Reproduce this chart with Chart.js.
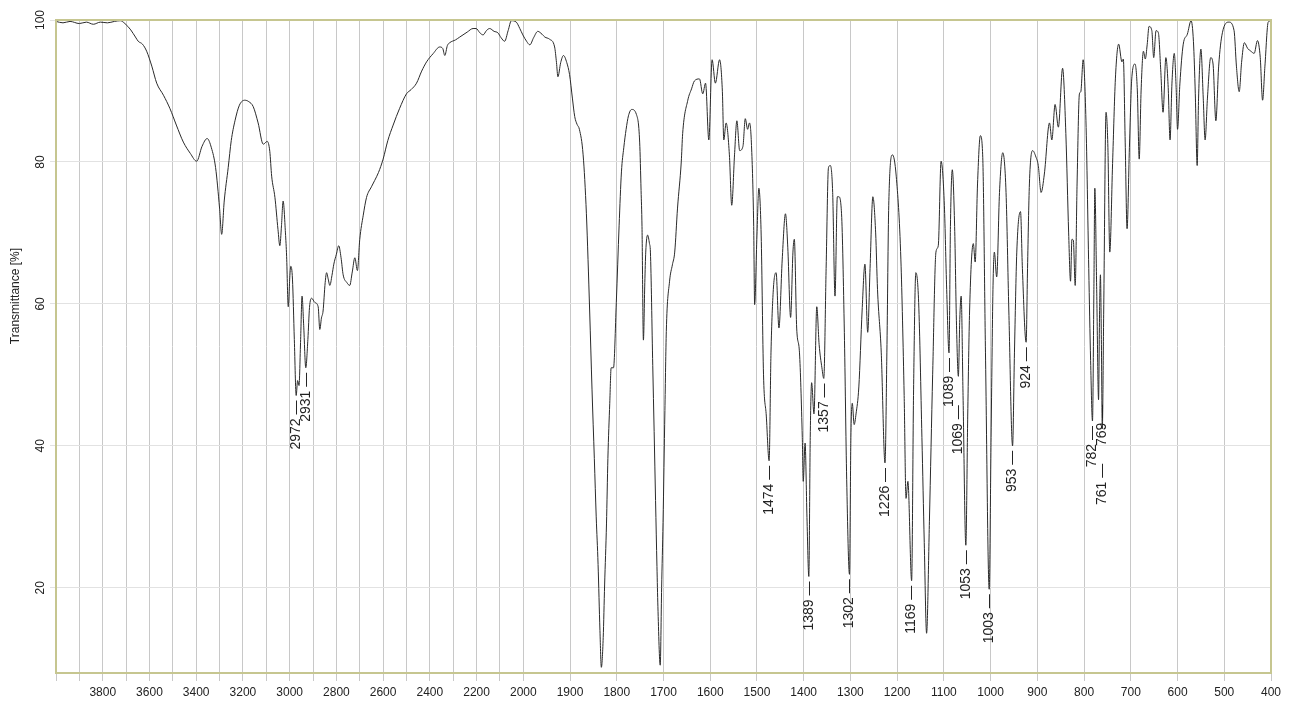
<!DOCTYPE html>
<html>
<head>
<meta charset="utf-8">
<title>IR spectrum</title>
<script src="https://cdn.jsdelivr.net/npm/chart.js@4.4.1/dist/chart.umd.min.js"></script>
<style>
  html, body { margin: 0; padding: 0; background: #fff; }
  canvas { display: block; }
</style>
</head>
<body>
<canvas id="spectrum" width="1296" height="705"></canvas>
<script>
// wavenumber [cm-1], high to low
const wavenumbers = [
  4000, 3970, 3940, 3900, 3870, 3840, 3810, 3780, 3750, 3725,
  3705, 3680, 3660, 3648, 3630, 3612, 3590, 3569, 3540, 3512,
  3485, 3455, 3425, 3398, 3375, 3353, 3335, 3317, 3300, 3291,
  3280, 3263, 3250, 3234, 3215, 3192, 3175, 3156, 3135, 3113,
  3096, 3085, 3077, 3063, 3050, 3042, 3035, 3028, 3018, 3013,
  3006, 2999, 2995, 2988, 2980, 2972, 2966, 2960, 2953, 2947,
  2940, 2931, 2922, 2915, 2906, 2892, 2878, 2871, 2864, 2857,
  2848, 2842, 2835, 2828, 2819, 2811, 2800, 2790, 2780, 2771,
  2755, 2743, 2732, 2721, 2710, 2700, 2685, 2671, 2650, 2636,
  2620, 2600, 2580, 2557, 2530, 2500, 2480, 2457, 2435, 2414,
  2385, 2358, 2345, 2336, 2325, 2315, 2290, 2272, 2240, 2215,
  2202, 2186, 2172, 2158, 2144, 2125, 2109, 2095, 2080, 2065,
  2051, 2030, 2015, 2002, 1993, 1986, 1978, 1969, 1960, 1954,
  1944, 1933, 1929, 1926, 1920, 1914, 1907, 1901, 1895, 1890,
  1885, 1880, 1872, 1865, 1858, 1853, 1848, 1844, 1840, 1836,
  1833, 1829, 1826, 1822, 1819, 1815, 1812, 1807, 1801, 1795,
  1790, 1785, 1780, 1775, 1768, 1758, 1751, 1748, 1746, 1743,
  1740, 1738, 1734, 1730, 1728, 1723, 1720, 1717, 1714, 1712,
  1707, 1704, 1701, 1697, 1694, 1687, 1681, 1676, 1670, 1662,
  1659, 1648, 1640, 1634, 1623, 1616, 1610, 1603, 1596, 1589,
  1580, 1574, 1571, 1566, 1559, 1554, 1548, 1543, 1537, 1530,
  1525, 1520, 1516, 1512, 1507, 1505, 1500, 1496, 1491, 1486,
  1480, 1474, 1470, 1465, 1459, 1453, 1446, 1439, 1434, 1428,
  1423, 1420, 1415, 1409, 1403, 1401, 1397, 1393, 1389, 1386,
  1383, 1378, 1372, 1367, 1361, 1357, 1352, 1347, 1343, 1338,
  1333, 1328, 1325, 1319, 1313, 1308, 1302, 1299, 1296, 1292,
  1288, 1282, 1275, 1269, 1263, 1258, 1252, 1246, 1242, 1234,
  1226, 1222, 1218, 1210, 1202, 1192, 1185, 1181, 1177, 1169,
  1165, 1160, 1154, 1147, 1142, 1137, 1131, 1124, 1117, 1112,
  1106, 1099, 1094, 1089, 1086, 1082, 1077, 1073, 1069, 1066,
  1063, 1059, 1053, 1049, 1045, 1037, 1033, 1028, 1022, 1017,
  1011, 1003, 999, 995, 992, 987, 981, 974, 967, 961,
  953, 949, 944, 936, 932, 924, 921, 917, 910, 903,
  898, 892, 885, 874, 869, 862, 855, 846, 839, 833,
  829, 826, 823, 819, 815, 810, 807, 802, 796, 790,
  786, 782, 779, 777, 773, 769, 767, 765, 763, 761,
  758, 753, 749, 745, 739, 733, 726, 719, 716, 712,
  708, 703, 698, 691, 686, 682, 678, 673, 669, 665,
  661, 655, 651, 646, 641, 636, 631, 625, 620, 616,
  612, 607, 603, 600, 595, 588, 579, 571, 566, 562,
  558, 555, 550, 545, 541, 536, 529, 524, 518, 512,
  504, 490, 479, 474, 468, 463, 457, 450, 443, 436,
  429, 423, 418, 413, 406, 400
];

// transmittance [%], same order
const transmittance = [
  99.8, 99.6, 99.8, 99.5, 99.7, 99.4, 99.7, 99.6, 99.8, 99.9,
  99.5, 98.6, 97.6, 97.0, 96.6, 95.6, 93.5, 91.1, 89.4, 87.5,
  85.2, 82.8, 81.2, 80.1, 82.2, 83.3, 82.0, 79.2, 73.5, 69.8,
  74.5, 79.2, 83.0, 85.8, 88.0, 88.7, 88.5, 87.8, 85.5, 82.5,
  82.9, 81.5, 78.0, 75.0, 70.5, 68.2, 71.0, 74.5, 70.0, 66.7,
  59.6, 64.0, 65.3, 63.5, 55.0, 47.1, 49.2, 48.5, 55.0, 61.1,
  57.0, 51.0, 55.0, 59.5, 60.8, 60.2, 59.6, 56.4, 58.0, 59.0,
  63.0, 64.4, 63.5, 62.6, 64.0, 65.6, 67.0, 68.2, 66.5, 64.1,
  63.0, 62.6, 64.5, 66.5, 64.7, 69.1, 72.5, 75.0, 76.5, 77.4,
  78.5, 80.4, 83.0, 85.2, 87.5, 89.6, 90.2, 91.1, 92.8, 94.1,
  95.3, 96.2, 96.0, 95.0, 96.4, 96.8, 97.2, 97.6, 98.3, 98.8,
  98.8, 98.2, 97.9, 98.5, 98.8, 98.4, 98.2, 97.5, 97.0, 98.5,
  99.9, 99.7, 98.8, 97.9, 97.0, 96.5, 97.5, 98.4, 98.0, 97.6,
  97.3, 96.2, 94.0, 92.0, 94.0, 95.0, 94.0, 92.3, 89.0, 86.4,
  85.3, 84.6, 81.0, 72.7, 59.0, 48.0, 38.2, 30.0, 23.3, 14.0,
  8.8, 13.0, 20.4, 29.0, 38.2, 46.0, 51.0, 51.0, 60.2, 71.0,
  78.6, 82.0, 84.6, 86.5, 87.4, 86.7, 82.8, 76.0, 70.9, 54.9,
  63.0, 67.3, 69.7, 68.5, 67.3, 51.3, 42.0, 32.3, 23.0, 17.4,
  9.1, 20.0, 29.2, 45.0, 56.1, 63.2, 65.5, 67.3, 73.5, 80.0,
  84.0, 88.7, 90.3, 91.4, 91.7, 89.6, 91.1, 83.1, 94.4, 91.1,
  94.4, 89.9, 83.1, 85.5, 81.0, 73.9, 81.0, 85.8, 81.6, 82.2,
  86.1, 84.6, 85.5, 82.8, 70.9, 59.9, 69.7, 76.3, 69.7, 50.1,
  44.2, 37.9, 53.1, 62.0, 64.4, 56.6, 66.2, 72.7, 67.9, 58.1,
  67.3, 69.1, 56.6, 53.1, 41.2, 35.0, 40.4, 29.9, 21.6, 41.2,
  48.9, 44.5, 59.6, 54.3, 51.0, 49.5, 65.0, 79.2, 79.5, 75.7,
  61.1, 75.1, 75.1, 72.7, 56.0, 35.3, 21.9, 41.2, 46.0, 43.0,
  44.5, 48.3, 59.0, 65.6, 56.0, 65.0, 75.1, 70.0, 62.0, 53.1,
  37.6, 53.1, 73.9, 81.0, 78.0, 66.2, 47.1, 32.6, 35.0, 21.0,
  47.1, 64.4, 60.2, 41.2, 26.4, 13.6, 29.3, 50.1, 67.3, 68.2,
  80.1, 73.9, 62.0, 53.1, 70.9, 78.9, 70.9, 57.0, 49.8, 57.8,
  61.1, 47.1, 26.0, 44.2, 59.0, 68.5, 65.9, 76.9, 83.7, 81.0,
  53.1, 19.8, 41.2, 62.0, 67.3, 63.8, 75.7, 81.3, 75.7, 59.0,
  40.0, 53.1, 67.3, 73.0, 65.0, 54.6, 65.0, 76.9, 81.6, 80.7,
  79.5, 75.7, 78.3, 85.5, 83.1, 88.1, 84.9, 93.2, 84.0, 70.0,
  63.2, 69.1, 69.0, 62.6, 76.9, 89.6, 89.9, 94.4, 85.8, 65.0,
  52.0, 43.5, 62.0, 76.3, 62.0, 46.5, 58.0, 64.1, 55.0, 42.4,
  59.0, 87.0, 82.0, 67.3, 79.8, 91.7, 96.6, 94.1, 94.5, 82.8,
  70.6, 82.0, 91.7, 93.8, 90.0, 80.4, 90.0, 95.6, 94.5, 96.5,
  99.1, 98.5, 94.7, 98.5, 98.2, 93.0, 87.0, 94.7, 90.5, 83.1,
  91.0, 95.3, 90.5, 84.6, 91.0, 96.5, 98.0, 99.9, 97.0, 89.6,
  79.5, 89.0, 95.9, 89.0, 83.1, 89.0, 94.7, 93.8, 85.8, 93.5,
  98.2, 99.7, 98.5, 93.5, 89.9, 94.0, 96.8, 96.0, 95.6, 95.3,
  97.1, 94.7, 88.7, 93.5, 99.7, 99.9
];

// annotated band positions
const peakLabels = [2972, 2931, 1474, 1389, 1357, 1302, 1226, 1169, 1089, 1069, 1053, 1003, 953, 924, 782, 769, 761];

const xTickLabels = [3800, 3600, 3400, 3200, 3000, 2800, 2600, 2400, 2200, 2000,
  1900, 1800, 1700, 1600, 1500, 1400, 1300, 1200, 1100, 1000, 900, 800, 700, 600, 500, 400];
const yTickLabels = [20, 40, 60, 80, 100];

const FONT = '"Liberation Sans", Arial, sans-serif';

// the axis is stretched 2x below 2000 cm-1
function toAxis(wn) {
  return wn >= 2000 ? (4000 - wn) / 2 : 1000 + (2000 - wn);
}
function fromAxis(u) {
  return Math.round(u <= 1000 ? 4000 - 2 * u : 2000 - (u - 1000));
}

const gridWavenumbers = [];
for (let wn = 4000; wn >= 400; wn -= 100) gridWavenumbers.push(wn);

const points = wavenumbers.map((wn, i) => ({ x: toAxis(wn), y: transmittance[i] }));

// pixel nudges for labels that would collide with a neighbour
const labelDrop = { 1069: 24, 761: 30 };
const labelSide = { 769: 4 };

const spectrumDecor = {
  id: 'spectrumDecor',
  afterDatasetsDraw(chart) {
    const { ctx, scales: { x, y } } = chart;
    ctx.save();
    ctx.font = '14px ' + FONT;
    ctx.fillStyle = '#222';
    ctx.textAlign = 'right';
    ctx.textBaseline = 'middle';
    peakLabels.forEach(wn => {
      const i = wavenumbers.indexOf(wn);
      const px = x.getPixelForValue(toAxis(wn)) + (labelSide[wn] || 0);
      const py = y.getPixelForValue(transmittance[i]) + 5 + (labelDrop[wn] || 0);
      ctx.save();
      ctx.translate(px, py);
      ctx.rotate(-Math.PI / 2);
      ctx.fillText(wn + ' \u2014', 0, 0);
      ctx.restore();
    });
    ctx.restore();
  },
  afterDraw(chart) {
    const { ctx, chartArea: a, scales: { y } } = chart;
    ctx.save();
    // frame
    ctx.strokeStyle = '#c6c690';
    ctx.lineWidth = 2;
    ctx.strokeRect(a.left, a.top, a.right - a.left, a.bottom - a.top);

    // rotated y tick labels
    ctx.fillStyle = '#222';
    ctx.font = '12px ' + FONT;
    ctx.textAlign = 'center';
    ctx.textBaseline = 'middle';
    yTickLabels.forEach(v => {
      ctx.save();
      ctx.translate(41, y.getPixelForValue(v));
      ctx.rotate(-Math.PI / 2);
      ctx.fillText(String(v), 0, 0);
      ctx.restore();
    });

    ctx.save();
    ctx.translate(16, 296);
    ctx.rotate(-Math.PI / 2);
    ctx.fillText('Transmittance [%]', 0, 0);
    ctx.restore();
    ctx.restore();
  }
};

new Chart(document.getElementById('spectrum'), {
  type: 'line',
  data: {
    datasets: [{
      data: points,
      borderColor: '#2a2a2a',
      borderWidth: 1,
      pointRadius: 0,
      fill: false,
      cubicInterpolationMode: 'monotone'
    }]
  },
  options: {
    responsive: false,
    animation: false,
    layout: { padding: { top: 20, right: 25, left: 0, bottom: 0 } },
    plugins: { legend: { display: false }, tooltip: { enabled: false } },
    scales: {
      x: {
        type: 'linear',
        min: 0,
        max: 2600,
        afterBuildTicks: scale => { scale.ticks = gridWavenumbers.map(wn => ({ value: toAxis(wn) })); },
        afterFit: scale => { scale.height = 32; },
        border: { display: false },
        grid: { color: '#c8c8c8', lineWidth: 1, tickLength: 8 },
        ticks: {
          autoSkip: false,
          maxRotation: 0,
          minRotation: 0,
          padding: 4,
          color: '#222',
          font: { family: FONT, size: 12 },
          callback: value => {
            const wn = fromAxis(value);
            return xTickLabels.includes(wn) ? String(wn) : '';
          }
        }
      },
      y: {
        min: 8,
        max: 100,
        afterBuildTicks: scale => { scale.ticks = yTickLabels.map(v => ({ value: v })); },
        afterFit: scale => { scale.width = 56; },
        border: { display: false },
        grid: { color: '#e2e2e2', lineWidth: 1, tickLength: 6 },
        ticks: { display: false }
      }
    }
  },
  plugins: [spectrumDecor]
});
</script>
</body>
</html>
